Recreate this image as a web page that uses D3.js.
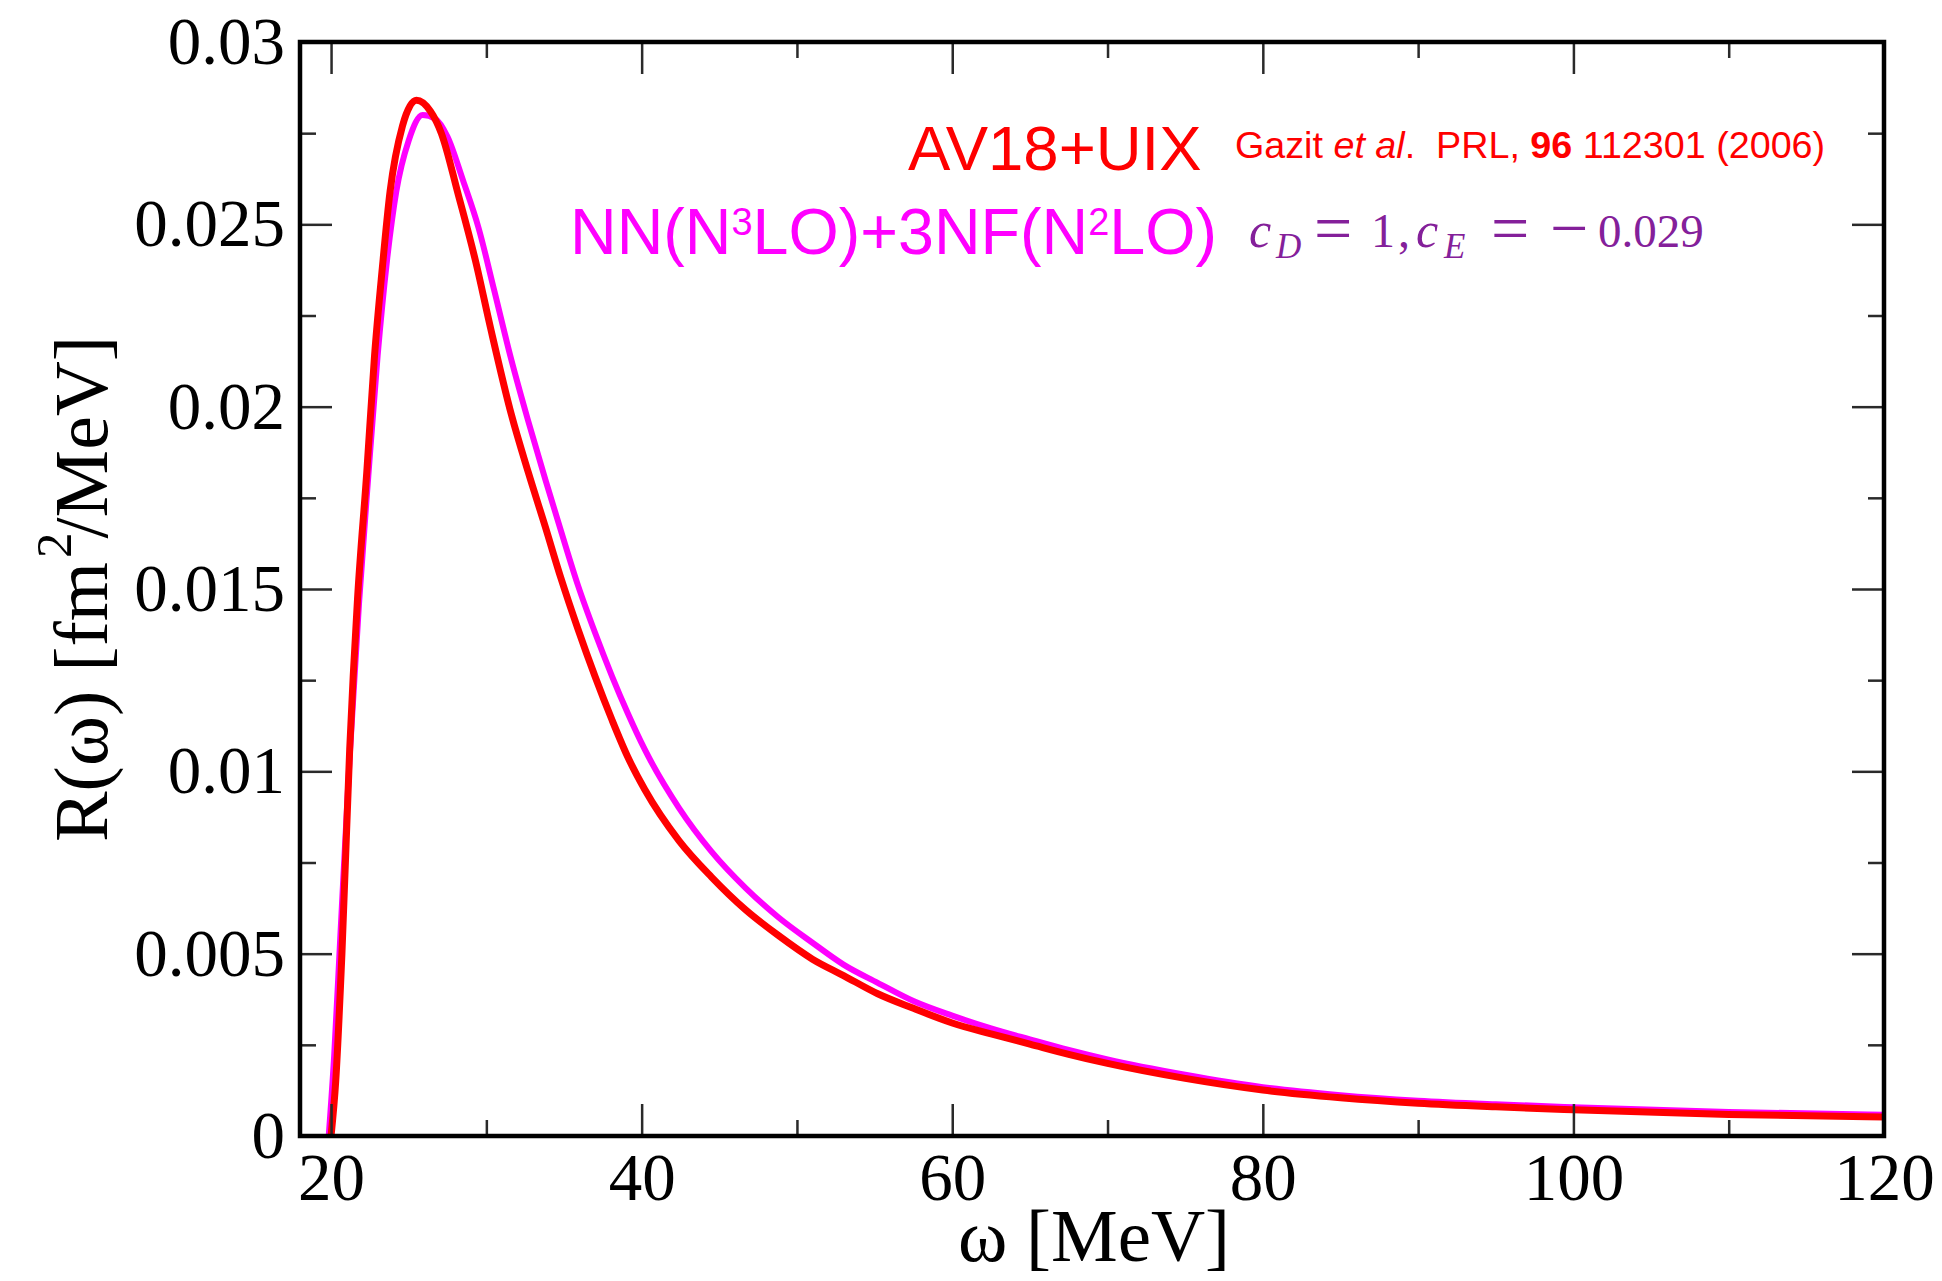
<!DOCTYPE html>
<html>
<head>
<meta charset="utf-8">
<script src="https://cdn.jsdelivr.net/npm/d3@7"></script>
<style>
  html, body { margin: 0; padding: 0; background: #fff; }
  svg { display: block; }
  text { white-space: pre; }
</style>
</head>
<body>
<svg id="chart" width="1942" height="1281"></svg>
<script>
// ---------------- data ----------------
const omegaAV18 = [20.0, 20.3, 20.7, 21.2, 21.7, 22.3, 22.8, 23.3, 23.8, 24.6, 25.5, 26.4, 27.1, 28.2, 29.3, 30.3, 31.6, 32.7, 33.8, 34.8, 35.9, 37.0, 38.1, 39.1, 40.2, 42.4, 44.5, 46.7, 48.8, 51.0, 53.0, 55.2, 57.5, 60, 62.5, 65, 67.5, 70, 75, 80, 85, 90, 95, 100, 110, 120];
const rAV18 = [0, 0.0015, 0.0050, 0.0106, 0.0147, 0.0182, 0.0214, 0.0238, 0.0259, 0.0277, 0.0284, 0.0281, 0.0275, 0.0258, 0.0240, 0.0221, 0.0198, 0.0182, 0.0167, 0.0153, 0.0139, 0.0126, 0.0114, 0.0104, 0.0095, 0.0081, 0.0071, 0.0062, 0.0055, 0.00485, 0.0044, 0.0039, 0.0035, 0.0031, 0.0028, 0.00252, 0.00224, 0.00199, 0.00158, 0.00126, 0.00105, 0.0009, 0.0008, 0.00072, 0.00059, 0.00052];

const omegaNN = [19.85, 20.2, 20.6, 21.2, 21.8, 22.4, 23.0, 23.6, 24.2, 25.0, 25.9, 26.7, 27.5, 28.5, 29.5, 30.5, 31.6, 32.7, 33.8, 34.8, 35.9, 37.0, 38.1, 39.1, 40.2, 42.4, 44.5, 46.7, 48.8, 51.0, 53.0, 55.2, 57.5, 60, 62.5, 65, 67.5, 70, 75, 80, 85, 90, 95, 100, 110, 120];
const rNN = [0, 0.0022, 0.0055, 0.0104, 0.0146, 0.0181, 0.0214, 0.0240, 0.0259, 0.0273, 0.0280, 0.0279, 0.0274, 0.0262, 0.0249, 0.0232, 0.0213, 0.0196, 0.0180, 0.0166, 0.0151, 0.0138, 0.0126, 0.0116, 0.0106, 0.0090, 0.0078, 0.0068, 0.0060, 0.0053, 0.0047, 0.0042, 0.0037, 0.0033, 0.00295, 0.00265, 0.00236, 0.0021, 0.00168, 0.00134, 0.00112, 0.00097, 0.00087, 0.00079, 0.00066, 0.00058];

const xMajorTicks = [20, 40, 60, 80, 100, 120];
const xMinorTicks = [30, 50, 70, 90, 110];
const xTickLabels = ["20", "40", "60", "80", "100", "120"];
const yMajorTicks = [0, 0.005, 0.01, 0.015, 0.02, 0.025, 0.03];
const yMinorTicks = [0.0025, 0.0075, 0.0125, 0.0175, 0.0225, 0.0275];
const yTickLabels = ["0", "0.005", "0.01", "0.015", "0.02", "0.025", "0.03"];

const xDomain = [18, 120];
const yDomain = [0, 0.03];

// ---------------- layout ----------------
const L = 300, R = 1884, T = 42, B = 1136;
const serif = "'Liberation Serif', 'Times New Roman', serif";
const sans = "'Liberation Sans', Arial, sans-serif";

const svg = d3.select("#chart");
const x = d3.scaleLinear().domain(xDomain).range([L, R]);
const y = d3.scaleLinear().domain(yDomain).range([B, T]);

// ---------------- curves ----------------
const nnData = omegaNN.map((w, i) => ({w, r: rNN[i]}));
const avData = omegaAV18.map((w, i) => ({w, r: rAV18[i]}));

svg.append("defs").append("clipPath").attr("id", "clip")
  .append("rect").attr("x", L).attr("y", T).attr("width", R - L).attr("height", B - T);

const g = svg.append("g").attr("clip-path", "url(#clip)");
g.append("path").datum(nnData)
  .attr("d", d3.line().x(d => x(d.w)).y(d => y(d.r)).curve(d3.curveMonotoneX))
  .attr("fill", "none").attr("stroke", "#ff00ff").attr("stroke-width", 6)
  .attr("stroke-linejoin", "round");
g.append("path").datum(avData)
  .attr("d", d3.line().x(d => x(d.w)).y(d => y(d.r)).curve(d3.curveMonotoneX))
  .attr("fill", "none").attr("stroke", "#ff0000").attr("stroke-width", 7)
  .attr("stroke-linejoin", "miter");

// ---------------- axes ----------------
function styleAxis(sel) {
  sel.select(".domain").remove();
  sel.selectAll(".tick line").attr("stroke", "#2a2a2a").attr("stroke-width", 2.5);
  sel.selectAll(".tick text").attr("fill", "#000").style("font-family", serif).style("font-size", "67px");
}

svg.append("g").attr("transform", `translate(0,${B})`)
  .call(d3.axisBottom(x).tickValues(xMajorTicks).tickSize(-32).tickPadding(16)
    .tickFormat((d, i) => xTickLabels[i]))
  .call(styleAxis);
svg.append("g").attr("transform", `translate(0,${B})`)
  .call(d3.axisBottom(x).tickValues(xMinorTicks).tickSize(-16).tickFormat(""))
  .call(styleAxis);
svg.append("g").attr("transform", `translate(0,${T})`)
  .call(d3.axisTop(x).tickValues(xMajorTicks).tickSize(-32).tickFormat(""))
  .call(styleAxis);
svg.append("g").attr("transform", `translate(0,${T})`)
  .call(d3.axisTop(x).tickValues(xMinorTicks).tickSize(-16).tickFormat(""))
  .call(styleAxis);

svg.append("g").attr("transform", `translate(${L},0)`)
  .call(d3.axisLeft(y).tickValues(yMajorTicks).tickSize(-32).tickPadding(15)
    .tickFormat((d, i) => yTickLabels[i]))
  .call(styleAxis);
svg.append("g").attr("transform", `translate(${L},0)`)
  .call(d3.axisLeft(y).tickValues(yMinorTicks).tickSize(-16).tickFormat(""))
  .call(styleAxis);
svg.append("g").attr("transform", `translate(${R},0)`)
  .call(d3.axisRight(y).tickValues(yMajorTicks).tickSize(-32).tickFormat(""))
  .call(styleAxis);
svg.append("g").attr("transform", `translate(${R},0)`)
  .call(d3.axisRight(y).tickValues(yMinorTicks).tickSize(-16).tickFormat(""))
  .call(styleAxis);

// frame
svg.append("rect").attr("x", L).attr("y", T).attr("width", R - L).attr("height", B - T)
  .attr("fill", "none").attr("stroke", "#000").attr("stroke-width", 4.5);

// ---------------- axis titles ----------------
svg.append("text").attr("x", (L + R) / 2 + 2).attr("y", 1261)
  .attr("text-anchor", "middle").style("font-family", serif).style("font-size", "75px")
  .text("ω [MeV]");

const yl = svg.append("text").attr("transform", `translate(107,${(T + B) / 2}) rotate(-90)`)
  .attr("text-anchor", "middle").style("font-family", serif).style("font-size", "76px");
yl.append("tspan").text("R(ω) [fm");
yl.append("tspan").attr("dy", -36).attr("dx", 4).style("font-size", "51px").text("2");
yl.append("tspan").attr("dy", 36).attr("dx", -6).text("/MeV]");

// ---------------- annotations ----------------
svg.append("text").attr("x", 908).attr("y", 170).attr("fill", "#ff0000")
  .style("font-family", sans).style("font-size", "63.5px").text("AV18+UIX");

const cit = svg.append("text").attr("x", 1235).attr("y", 158).attr("fill", "#ff0000")
  .style("font-family", sans).style("font-size", "37.7px");
cit.append("tspan").text("Gazit ");
cit.append("tspan").style("font-style", "italic").text("et al");
cit.append("tspan").text(".  PRL, ");
cit.append("tspan").style("font-weight", "bold").text("96");
cit.append("tspan").text(" 112301 (2006)");

const nn = svg.append("text").attr("x", 570).attr("y", 254).attr("fill", "#ff00ff")
  .style("font-family", sans).style("font-size", "64.6px");
nn.append("tspan").text("NN(N");
nn.append("tspan").attr("dy", -19).style("font-size", "38px").text("3");
nn.append("tspan").attr("dy", 19).text("LO)+3NF(N");
nn.append("tspan").attr("dy", -19).style("font-size", "38px").text("2");
nn.append("tspan").attr("dy", 19).text("LO)");

const purple = "#84209a";
const cd = svg.append("g").attr("fill", purple).style("font-family", serif);
function piece(px, py, txt, size, italic) {
  cd.append("text").attr("x", px).attr("y", py).style("font-size", size + "px")
    .style("font-style", italic ? "italic" : "normal").text(txt);
}
piece(1249, 247, "c", 50, true);
piece(1276, 258, "D", 35, true);
piece(1314, 251, "=", 68, false);
piece(1371, 247, "1", 48, false);
piece(1398, 247, ",", 48, false);
piece(1416, 247, "c", 50, true);
piece(1444, 258, "E", 35, true);
piece(1491, 251, "=", 68, false);
piece(1550, 251, "\u2212", 68, false);
piece(1598, 247, "0.029", 47, false);
</script>
</body>
</html>
